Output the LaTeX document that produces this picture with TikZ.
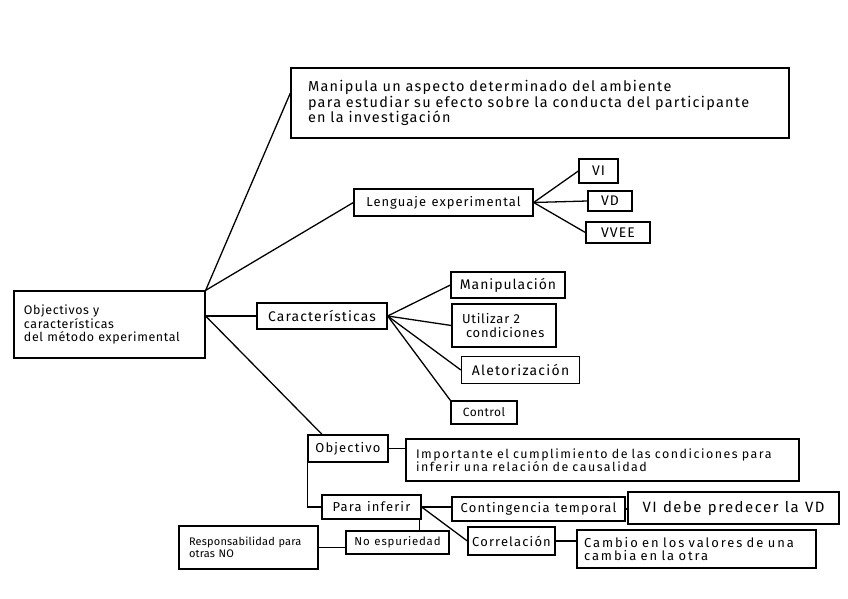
\documentclass[tikz,border=0pt]{standalone}
\usepackage{fontspec}
\setmainfont{Fira Sans}
\usetikzlibrary{positioning, calc}
\newcommand\hand[3]{\fontsize{#1}{#2}\selectfont\addfontfeature{LetterSpace=#3}%
    \spaceskip=.42em plus .1em minus .05em\relax}

\begin{document}
\begin{tikzpicture}[
    x=1bp, y=-1bp,
    box/.style={
        draw=black,
        line width=1.3pt,
        inner sep=0pt,
        text=black,
        font=\hand{13}{14}{8}
    },
    note/.style={box, align=left},
    link/.style={draw=black, line width=1.3pt}
]
\useasboundingbox (0,0) rectangle (848,599);

% root and first level
\node[note, minimum width=191bp, minimum height=67bp, inner xsep=10bp, text width=171bp,
      font=\hand{12.5}{13.5}{5}] (root) at (109.5,324.5)
    {Objectivos y\\características\\del método experimental};
\node[note, minimum width=498bp, minimum height=70bp, inner xsep=17bp, text width=464bp,
      font=\hand{14.5}{15.5}{9}] (manip) at (540,103)
    {Manipula un aspecto determinado del ambiente\\para estudiar su efecto sobre la conducta del participante\\en la investigación};
\node[box, minimum width=179bp, minimum height=27bp, font=\hand{13}{14}{8}] (leng) at (443.5,202.5) {Lenguaje experimental};
\node[box, minimum width=130bp, minimum height=26bp, font=\hand{14}{15}{8}] (carac) at (322,316) {Características};
\node[box, minimum width=80bp, minimum height=27bp, font=\hand{13}{14}{9}] (objt) at (348,448.5) {Objectivo};

% lenguaje experimental
\node[box, minimum width=39bp, minimum height=24bp, font=\hand{14}{15}{8}] (vi) at (598.5,171) {VI};
\node[box, minimum width=44bp, minimum height=20bp, font=\hand{14}{15}{8}] (vd) at (610,201) {VD};
\node[box, minimum width=64bp, minimum height=21bp, font=\hand{14}{15}{8}] (vvee) at (618,232.5) {VVEE};

% caracteristicas
\node[box, minimum width=114bp, minimum height=26bp, font=\hand{14}{15}{7}] (manipu) at (508,285) {Manipulación};
\node[note, minimum width=104bp, minimum height=43bp, inner xsep=10bp, text width=84bp,
      font=\hand{13}{14}{6}] (util) at (504,325.5)
    {Utilizar 2\\\hspace*{4bp}condiciones};
\node[box, minimum width=118bp, minimum height=27bp, font=\hand{14}{15}{9}] (alea) at (520.5,370) {Aletorización};
\node[box, minimum width=66bp, minimum height=23bp, font=\hand{12}{13}{4}] (control) at (484,412.5) {Control};

% objetivo
\node[note, minimum width=393bp, minimum height=42bp, inner xsep=10bp, text width=373bp,
      font=\hand{12.5}{13.5}{12}] (impt) at (602.5,460)
    {Importante el cumplimiento de las condiciones para\\inferir una relación de causalidad};
\node[box, minimum width=99bp, minimum height=24bp, font=\hand{13}{14}{9}] (para) at (371.5,507) {Para inferir};
\node[box, minimum width=103bp, minimum height=23bp, font=\hand{11.5}{12.5}{7}] (noesp) at (397.5,542.5) {No espuriedad};
\node[note, minimum width=139bp, minimum height=43bp, inner xsep=10bp, text width=119bp,
      font=\hand{11}{12}{2}] (resp) at (248.5,547.5)
    {Responsabilidad para\\otras NO};
\node[box, minimum width=173bp, minimum height=24bp, font=\hand{13}{14}{9}] (conting) at (538.5,509) {Contingencia temporal};
\node[box, minimum width=211bp, minimum height=32bp, font=\hand{15}{16}{10}] (vidb) at (733.5,508) {VI debe predecer la VD};
\node[box, minimum width=87bp, minimum height=28bp, font=\hand{13}{14}{9}] (corr) at (511.5,541) {Correlación};
\node[note, minimum width=239bp, minimum height=38bp, inner xsep=7bp, text width=225bp,
      font=\hand{13}{14}{15}] (cambio) at (696.5,549)
    {Cambio en los valores de una\\cambia en la otra};

% root links
\draw[link] (root.north east) -- ([yshift=10bp]manip.west);
\draw[link] (root.north east) -- (leng.west);
\draw[link] (carac.west -| root.east) -- (carac.west);
\draw[link] (carac.west -| root.east) -- ([xshift=-26bp]objt.north);

% second level
\foreach \t in {vi,vd,vvee}
    \draw[link] (leng.east) -- (\t.west);
\foreach \t in {manipu,util,alea}
    \draw[link] (carac.east) -- (\t.west);
\draw[link] (carac.east) -- (control.north west);

% objetivo links
\draw[link] (objt.east) -- (objt.east -| impt.west);
\draw[link] (objt.south west) |- (para.west);
\draw[link] ([xshift=-2bp]para.south east) -- ([xshift=-2bp]para.south east |- noesp.north);
\draw[link] (noesp.west |- resp.east) -- (resp.east);
\draw[link] (para.east) -- (para.east -| conting.west);
\draw[link] (para.east) -- (corr.west);
\draw[link] (conting.east) -- (conting.east -| vidb.west);
\draw[link] (corr.east) -- (corr.east -| cambio.west);

\end{tikzpicture}
\end{document}
